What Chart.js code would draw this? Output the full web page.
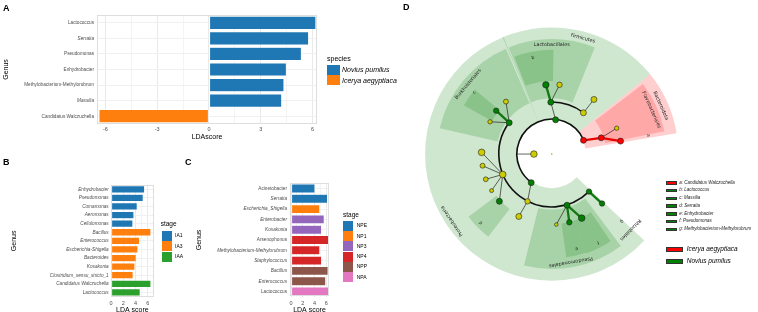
<!DOCTYPE html>
<html><head><meta charset="utf-8">
<script src="https://cdn.jsdelivr.net/npm/chart.js@4.4.0/dist/chart.umd.min.js"></script>
<style>
html,body{margin:0;padding:0;width:758px;height:312px;overflow:hidden;background:#fff;font-family:"Liberation Sans",Arial,sans-serif;}
canvas{position:absolute;}
.t{position:absolute;white-space:nowrap;line-height:1;color:#000;}
.sw{position:absolute;box-sizing:border-box;}
.lbl{position:absolute;font-weight:bold;font-size:9px;line-height:1;}
</style></head><body>
<canvas id="cA" width="400" height="142" style="left:0;top:0"></canvas>
<canvas id="cB" width="185" height="176" style="left:0;top:140px"></canvas>
<canvas id="cC" width="215" height="176" style="left:185px;top:140px"></canvas>
<canvas id="cD" width="358" height="312" style="left:400px;top:0"></canvas>
<div class="lbl" style="left:3px;top:4px">A</div>
<div class="lbl" style="left:3px;top:158px">B</div>
<div class="lbl" style="left:185px;top:158px">C</div>
<div class="lbl" style="left:403px;top:3px">D</div>
<div id="legends"></div>
<script>
// ---------------- DATA ----------------
// Panel A
const genusA = ['Lactococcus','Serratia','Pseudomonas','Enhydrobacter','Methylobacterium-Methylorubrum','Massilia','Candidatus Walczuchella'];
const ldaA = [6.2, 5.78, 5.36, 4.49, 4.35, 4.22, -6.38];
const speciesA = ['Novius pumilus','Novius pumilus','Novius pumilus','Novius pumilus','Novius pumilus','Novius pumilus','Icerya aegyptiaca'];
const speciesNames = ['Novius pumilus','Icerya aegyptiaca'];
const ticksA = [-6,-3,0,3,6];
const minorA = [-4.5,-1.5,1.5,4.5];
const italicA = ['Serratia','Massilia'];

// Panel B
const genusB = ['Enhydrobacter','Pseudomonas','Comamonas','Aeromonas','Cellulomonas','Bacillus','Enterococcus','Escherichia-Shigella','Bacteroides','Kosakonia','Clostridium_sensu_stricto_1','Candidatus Walczuchella','Lactococcus'];
const ldaB = [5.51, 5.28, 4.3, 3.76, 3.59, 6.54, 4.69, 4.41, 4.13, 3.92, 3.64, 6.54, 4.79];
const stageB = ['IA1','IA1','IA1','IA1','IA1','IA3','IA3','IA3','IA3','IA3','IA3','IAA','IAA'];
const stagesB = ['IA1','IA3','IAA'];
const ticksBC = [0,2,4,6];
const minorB = [1,3,5,7];

// Panel C
const genusC = ['Acinetobacter','Serratia','Escherichia_Shigella','Enterobacter','Kosakonia','Arsenophonus','Methylobacterium-Methylorubrum','Staphylococcus','Bacillus','Enterococcus','Lactococcus'];
const ldaC = [4.07, 6.2, 4.9, 5.65, 5.2, 6.44, 4.9, 5.2, 6.3, 5.9, 6.44];
const stageC = ['NPE','NPE','NP1','NP3','NP3','NP4','NP4','NP4','NPP','NPP','NPA'];
const stagesC = ['NPE','NP1','NP3','NP4','NPP','NPA'];
const minorC = [1,3,5];
const italicC = ['Serratia','Escherichia_Shigella','Enterobacter','Kosakonia','Methylobacterium-Methylorubrum','Staphylococcus','Bacillus','Enterococcus'];

// Panel D: cladogram (radius level, angle in degrees counter-clockwise from east)
const nodeR     = [0, 18.3, 35.8, 35.5, 35.5, 36.2, 53.5, 53.5, 53.5, 54.3, 54.5, 54.7, 55, 54.4, 71.9, 71.8, 71.6, 71.8, 71, 72.4, 71.6, 71.5, 72, 72, 72.5, 72.3, 72.5, 72.6, 72.8, 72.6, 72.8, 72.6];
const nodeAngle = [0, 180, 180, 23.5, 83.5, 234.4, 18.2, 91, 52.6, 143.5, 202.7, 243, 286.6, 314.7, 10.7, 21.8, 94.8, 83.6, 52.4, 141.9, 131, 152.3, 178.6, 189.6, 201, 211.4, 222.2, 242.3, 273.7, 284.4, 295, 315.4];
const nodeGroup = ['root','none','hidden','I','N','N','I','N','none','N','none','none','N','N','I','none','N','none','none','N','none','none','none','none','none','none','N','none','none','N','N','N'];
const nodeSize  = [1, 3.3, 0, 3, 3, 3, 3, 3, 3, 3, 3.3, 2.7, 3, 2.7, 3, 2.2, 3.2, 2.7, 3, 2.7, 2.5, 2.2, 3.3, 2.5, 2.4, 2, 3, 3, 1.8, 2.7, 3.3, 2.7];
const edgeFrom  = [2, 3, 4, 5, 6, 6, 7, 7, 8, 9, 9, 9, 10, 10, 10, 10, 10, 11, 12, 12, 12, 13];
const edgeTo    = [1, 6, 7, 11, 14, 15, 16, 17, 18, 19, 20, 21, 22, 23, 24, 25, 26, 27, 28, 29, 30, 31];
const edgeStyle = ['t','r','t','t','r','t','g','t','t','g','t','t','t','t','t','t','t','t','t','g','g','g'];
const arcR    = [35.8, 53.5, 54.3];
const arcFrom = [23.5, 52.6, 143.5];
const arcTo   = [234.4, 91, 314.7];
const sectorName  = ['Bacteroidota','Firmicutes','Proteobacteria','Flavobacteriales','Lactobacillales','Burkholderiales','Pseudomonadales','b','c','d','e','f'];
const sectorFrom  = [9.5, 39, 112.4, 11.5, 68, 113.5, 256, 89, 140, 217, 278, 289];
const sectorTo    = [39, 112.8, 317, 37.5, 112, 167, 307, 111, 151, 232.5, 289, 304];
const sectorRIn   = [35, 35, 35, 56, 57, 57, 57, 75, 70, 71, 72, 72];
const sectorROut  = [130, 130, 130, 118, 118, 118, 118, 107, 103, 107, 107, 108];
const sectorGroup = ['I','N','N','I','N','N','N','N','N','N','N','N'];
const labelText  = ['Bacteroidota','Flavobacteriales','Firmicutes','Lactobacillales','Burkholderiales','Proteobacteria','Pseudomonadales','Rhizobiales','a','b','c','d','e','f','g'];
const labelAngle = [24, 24, 75, 90, 140, 214, 280, 316, 11, 101, 141.4, 224.3, 284.7, 297.5, 316];
const labelR     = [122.5, 112, 123.5, 112.5, 112, 123.5, 113, 112.5, 101, 101, 101.5, 101.5, 101, 102.5, 100];
const biomarkerText  = ['a: Candidatus Walczuchella','b: Lactococcus','c: Massilia','d: Serratia','e: Enhydrobacter','f: Pseudomonas','g: Methylobacterium-Methylorubrum'];
const biomarkerGroup = ['I','N','N','N','N','N','N'];
const groupNamesD = ['Icerya aegyptiaca','Novius pumilus'];
const groupKeysD = ['I','N'];

// ---------------- STYLES ----------------
const TAB = {'Novius pumilus':'#1f77b4','Icerya aegyptiaca':'#ff7f0e',
  IA1:'#1f77b4', IA3:'#ff7f0e', IAA:'#2ca02c',
  NPE:'#1f77b4', NP1:'#ff7f0e', NP3:'#9467bd', NP4:'#d62728', NPP:'#8c564b', NPA:'#e377c2'};
const NODECOL = {root:'#b5c400', none:'#cccc00', N:'#008000', I:'#ff0000', hidden:'rgba(0,0,0,0)'};
const SECTORCOL = {N:'rgba(0,128,0,0.19)', I:'rgba(255,0,0,0.19)'};
const EDGESTYLE = {t:{c:'#222', w:0.7}, g:{c:'#127812', w:2.3}, r:{c:'#e80000', w:2.3}};

Chart.defaults.font.family = '"Liberation Sans", Arial, Helvetica, sans-serif';
Chart.defaults.color = '#4d4d4d';

const panelBorder = {id:'panelBorder', afterDatasetsDraw(chart){
  const {ctx, chartArea:a} = chart; ctx.save(); ctx.strokeStyle = '#dedede'; ctx.lineWidth = 1;
  ctx.strokeRect(Math.round(a.left)+0.5, Math.round(a.top)+0.5, Math.round(a.right-a.left)-1, Math.round(a.bottom-a.top)-1);
  ctx.restore(); }};

function barChart(id, c){
  const datasets = c.groupNames.map(g => ({
    label: g, data: c.values.map((v,j) => c.groups[j]===g ? v : null),
    backgroundColor: TAB[g], borderColor:'rgba(255,255,255,0.55)', borderWidth:0.6, borderSkipped:false,
    barPercentage: c.barPct, categoryPercentage: 1
  }));
  const all = [...c.major, ...c.minor].sort((a,b)=>a-b);
  return new Chart(document.getElementById(id), {
    type:'bar', data:{labels:c.labels, datasets},
    options:{
      indexAxis:'y', responsive:false, animation:false, devicePixelRatio:1, events:[],
      layout:{padding:{left:0, top:c.area.top, right:c.cw - c.area.right, bottom:0}},
      plugins:{legend:{display:false}, tooltip:{enabled:false}},
      scales:{
        x:{type:'linear', min:c.xMin, max:c.xMax,
          afterBuildTicks: ax => { ax.ticks = all.map(v=>({value:v})); },
          ticks:{callback: v => c.major.includes(v) ? String(v) : '', font:{size:5.5}, color:'#4d4d4d', padding:c.xTickPad, maxRotation:0, autoSkip:false},
          grid:{color: ctx => (ctx.tick && c.major.includes(ctx.tick.value)) ? '#e9e9e9' : '#f4f4f4', drawTicks:false, lineWidth:1},
          border:{display:false},
          title:{display:true, text:c.xTitle, font:{size:7}, color:'#000', padding:{top:0, bottom:c.xTitlePad}},
          afterFit: ax => { ax.height = c.ch - c.area.bottom; }
        },
        y:{stacked:true,
          ticks:{autoSkip:false, color:'#4d4d4d', padding:c.yTickPad,
            font: ctx => ({size:4.7, style: c.italic.includes(c.labels[ctx.index]) ? 'italic' : 'normal'})},
          grid:{offset:false, color:'#f0f0f0', drawTicks:false},
          border:{display:false},
          title:{display:true, text:'Genus', font:{size:7}, color:'#000', padding:{top:c.yTitlePad, bottom:0}},
          afterFit: ax => { ax.width = c.area.left; }
        }
      }
    },
    plugins:[panelBorder]
  });
}

barChart('cA', {labels:genusA, values:ldaA, groups:speciesA, groupNames:speciesNames, barPct:0.86,
  cw:400, ch:142, area:{left:97, right:317, top:15, bottom:124}, xMin:-6.49, xMax:6.26,
  major:ticksA, minor:minorA, xTickPad:2, xTitle:'LDAscore', xTitlePad:1, yTickPad:3, yTitlePad:2, italic:italicA});

barChart('cB', {labels:genusB, values:ldaB, groups:stageB, groupNames:stagesB, barPct:0.87,
  cw:185, ch:176, area:{left:110.7, right:154, top:45, bottom:156.7}, xMin:-0.05, xMax:7.03,
  major:ticksBC, minor:minorB, xTickPad:3, xTitle:'LDA score', xTitlePad:1.8, yTickPad:2, yTitlePad:9.8, italic:genusB});

barChart('cC', {labels:genusC, values:ldaC, groups:stageC, groupNames:stagesC, barPct:0.88,
  cw:215, ch:176, area:{left:105, right:144, top:43.3, bottom:156.7}, xMin:-0.17, xMax:6.44,
  major:ticksBC, minor:minorC, xTickPad:3, xTitle:'LDA score', xTitlePad:1.8, yTickPad:3, yTitlePad:9.8, italic:italicC});

// ---------------- PANEL D ----------------
const pol = (r,a) => ({x: r*Math.cos(a*Math.PI/180), y: r*Math.sin(a*Math.PI/180)});
const nodePts = nodeR.map((r,i) => pol(r, nodeAngle[i]));
const edgeSets = edgeFrom.map((f,i) => ({
  data:[nodePts[f], nodePts[edgeTo[i]]], showLine:true, pointRadius:0,
  borderColor: EDGESTYLE[edgeStyle[i]].c, borderWidth: EDGESTYLE[edgeStyle[i]].w, order:2, clip:false
}));
const nodeSet = {data:nodePts, showLine:false, order:0, clip:false,
  pointRadius: nodeSize, pointStyle: nodeGroup.map(g => g==='root' ? 'rect' : 'circle'),
  backgroundColor: nodeGroup.map(g => NODECOL[g]),
  borderColor: nodeGroup.map(g => (g==='root'||g==='hidden') ? 'rgba(0,0,0,0)' : '#1e1e1e'), borderWidth:0.6};

const cladoDecor = {id:'cladoDecor', beforeDatasetsDraw(chart){
  const {ctx, scales:{x:xs, y:ys}} = chart;
  const x0 = xs.getPixelForValue(0), y0 = ys.getPixelForValue(0), k = xs.getPixelForValue(1) - x0;
  const rad = a => -a*Math.PI/180;
  ctx.save();
  sectorName.forEach((n,i) => {
    ctx.beginPath();
    ctx.arc(x0, y0, sectorROut[i]*k, rad(sectorFrom[i]), rad(sectorTo[i]), true);
    ctx.arc(x0, y0, sectorRIn[i]*k, rad(sectorTo[i]), rad(sectorFrom[i]), false);
    ctx.closePath(); ctx.fillStyle = SECTORCOL[sectorGroup[i]]; ctx.fill();
  });
  ctx.strokeStyle = '#111'; ctx.lineWidth = 1.6;
  arcR.forEach((r,i) => { ctx.beginPath(); ctx.arc(x0, y0, r*k, rad(arcFrom[i]), rad(arcTo[i]), true); ctx.stroke(); });
  ctx.fillStyle = '#222'; ctx.textAlign = 'center'; ctx.textBaseline = 'middle';
  labelText.forEach((t,i) => {
    const p = pol(labelR[i], labelAngle[i]);
    ctx.save();
    ctx.translate(xs.getPixelForValue(p.x), ys.getPixelForValue(p.y));
    ctx.rotate((90 - labelAngle[i])*Math.PI/180);
    ctx.font = (t.length === 1 ? '4.6px' : '4.9px') + ' "DejaVu Sans", sans-serif';
    ctx.fillText(t, 0, 0);
    ctx.restore();
  });
  ctx.restore();
}};

new Chart(document.getElementById('cD'), {
  type:'scatter', data:{datasets:[nodeSet, ...edgeSets]},
  options:{responsive:false, animation:false, devicePixelRatio:1, events:[],
    layout:{padding:0},
    plugins:{legend:{display:false}, tooltip:{enabled:false}},
    scales:{x:{type:'linear', min:-151, max:207, display:false}, y:{type:'linear', min:-158, max:154, display:false}}},
  plugins:[cladoDecor]
});

// ---------------- LEGENDS (HTML) ----------------
const L = document.getElementById('legends');
function txt(s, x, cy, size, style){ const d = document.createElement('div'); d.className='t'; d.textContent=s;
  d.style.left = x+'px'; d.style.top = (cy - size/2)+'px'; d.style.fontSize = size+'px'; if (style) d.style.cssText += style; L.appendChild(d); }
function sw(x, y, w, h, col, border){ const d = document.createElement('div'); d.className='sw';
  d.style.cssText += `left:${x}px;top:${y}px;width:${w}px;height:${h}px;background:${col};` + (border ? `border:${border};` : ''); L.appendChild(d); }

txt('species', 327, 58, 7);
speciesNames.forEach((s,i) => { sw(327, 64.5 + i*10.8, 13, 10, TAB[s]); txt(s, 342, 69.5 + i*10.8, 7, 'font-style:italic;'); });
txt('stage', 160.7, 224.7, 6.5);
stagesB.forEach((s,i) => { sw(161.7, 230.7 + i*10.4, 10, 10, TAB[s]); txt(s, 175, 235.7 + i*10.4, 5); });
txt('stage', 343, 215, 6.5);
stagesC.forEach((s,i) => { sw(343.3, 220.7 + i*10.3, 9.5, 10, TAB[s]); txt(s, 356.7, 225.7 + i*10.3, 5); });
biomarkerText.forEach((s,i) => { sw(665.7, 181 + i*7.78, 11, 3.6, NODECOL[biomarkerGroup[i]], '0.6px solid #333');
  txt(s, 679.3, 182.8 + i*7.78, 4.5, 'font-style:italic;color:#222;'); });
groupKeysD.forEach((g,i) => { sw(665.7, 246.7 + i*12, 17.6, 5.6, NODECOL[g], '0.6px solid #333');
  txt(groupNamesD[i], 686.7, 249.5 + i*12, 6.5, 'font-style:italic;'); });
</script>
</body></html>
